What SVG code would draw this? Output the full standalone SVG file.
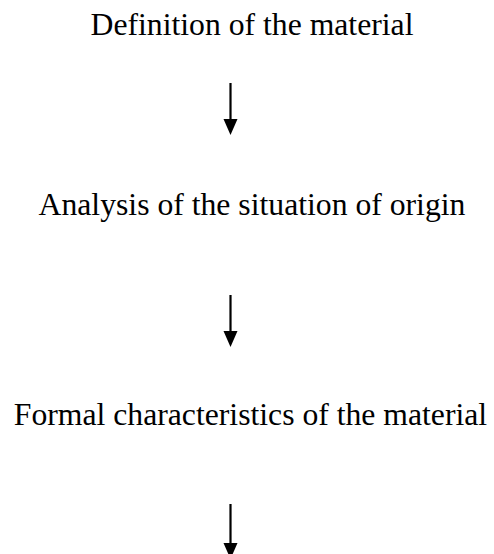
<svg xmlns="http://www.w3.org/2000/svg" width="494" height="554" viewBox="0 0 494 554">
<style>
text{font-family:"Liberation Serif","Times New Roman",serif;font-size:31.7px;fill:#000;text-anchor:middle}
.shaft{stroke:#000;stroke-width:2.2;fill:none}
.head{fill:#000}
</style>
<rect width="494" height="554" fill="#fff"/>
<g id="node1"><text x="252" y="35">Definition of the material</text></g>
<g id="node2"><text x="252" y="215">Analysis of the situation of origin</text></g>
<g id="node3"><text x="250.5" y="425">Formal characteristics of the material</text></g>
<g id="connectors">
<line class="shaft" x1="230.5" y1="83" x2="230.5" y2="122"/>
<path class="head" d="M223.5,119 L237.5,119 L230.5,135 Z"/>
<line class="shaft" x1="230.5" y1="295" x2="230.5" y2="334"/>
<path class="head" d="M223.5,331 L237.5,331 L230.5,347 Z"/>
<line class="shaft" x1="230.5" y1="504" x2="230.5" y2="546"/>
<path class="head" d="M223.5,543 L237.5,543 L230.5,559 Z"/>
</g>
</svg>
